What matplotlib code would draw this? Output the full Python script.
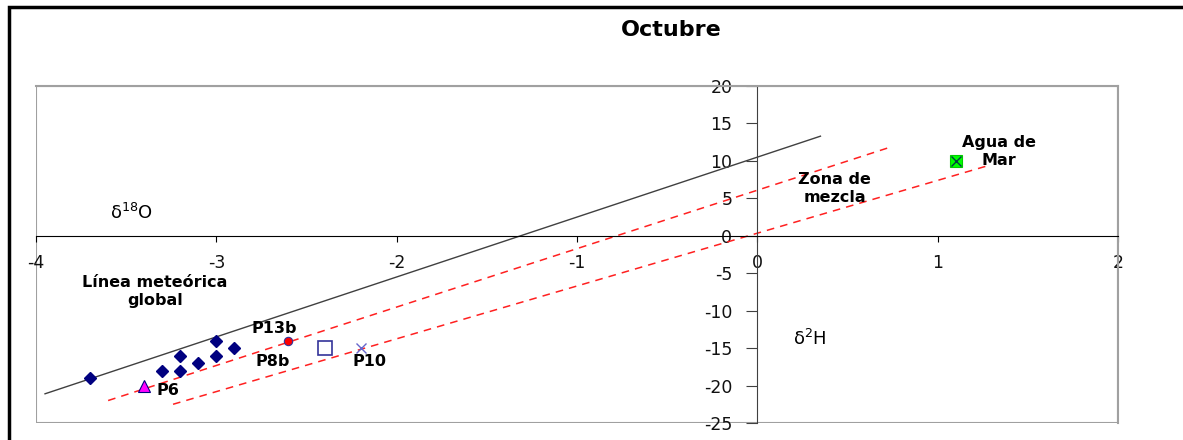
import matplotlib.pyplot as plt
from matplotlib.patches import Rectangle

plt.rcParams['font.family'] = ['DejaVu Sans']
plt.rcParams['axes.unicode_minus'] = False
plt.rcParams['mathtext.default'] = 'regular'

# Muestras de octubre (d18O, d2H)
muestras_x = [-3.7, -3.3, -3.2, -3.2, -3.1, -3.0, -3.0, -2.9]
muestras_y = [-19, -18, -18, -16, -17, -16, -14, -15]
p6 = (-3.4, -20)
p13b = (-2.6, -14)
p8b = (-2.4, -15)
p10 = (-2.2, -15)
agua_mar = (1.1, 10)

# Linea meteorica global y limites de la zona de mezcla
lmg_x = [-3.95, 0.35]
lmg_y = [-21.1, 13.3]
mezcla_sup_x = [-3.6, 0.72]
mezcla_sup_y = [-22.0, 11.7]
mezcla_inf_x = [-3.24, 1.27]
mezcla_inf_y = [-22.5, 9.3]

xticks = [-4, -3, -2, -1, 0, 1, 2]
yticks = [-25, -20, -15, -10, -5, 0, 5, 10, 15, 20]

fig = plt.figure(figsize=(11.83, 4.40), dpi=100)
ax = fig.add_axes([36 / 1183, 17 / 440, 1082 / 1183, 337 / 440])

# marco exterior del grafico
fig.patches.append(Rectangle((9 / 1183, -0.1), 1.2, (433 / 440) + 0.1,
                             transform=fig.transFigure, fill=False,
                             edgecolor='black', linewidth=2.5, zorder=0))

ax.plot(lmg_x, lmg_y, color='#404040', linewidth=1.0)
ax.plot(mezcla_sup_x, mezcla_sup_y, color='#FF2020', linestyle=(0, (5, 4)), linewidth=1.1)
ax.plot(mezcla_inf_x, mezcla_inf_y, color='#FF2020', linestyle=(0, (5, 4)), linewidth=1.1)

ax.plot(muestras_x, muestras_y, linestyle='none', marker='D', markersize=6.5,
        color='#000080')
ax.plot(p6[0], p6[1], linestyle='none', marker='^', markersize=8,
        markerfacecolor='#FF00FF', markeredgecolor='#000080', markeredgewidth=0.8)
ax.plot(p13b[0], p13b[1], linestyle='none', marker='o', markersize=6,
        markerfacecolor='#FF0000', markeredgecolor='#333399', markeredgewidth=0.8)
ax.plot(p8b[0], p8b[1], linestyle='none', marker='s', markersize=10,
        markerfacecolor='none', markeredgecolor='#333399', markeredgewidth=1.2)
ax.plot(p10[0], p10[1], linestyle='none', marker='x', markersize=7,
        color='#6666CC', markeredgewidth=1.0)
ax.plot(agua_mar[0], agua_mar[1], linestyle='none', marker='s', markersize=9,
        markerfacecolor='#00FF00', markeredgecolor='#00CC00', markeredgewidth=0.8)
ax.plot(agua_mar[0], agua_mar[1], linestyle='none', marker='x', markersize=7,
        color='#004040', markeredgewidth=1.0)

ax.set_xlim(-4, 2)
ax.set_ylim(-25, 20)
ax.set_xticks(xticks)
ax.set_yticks(yticks)

# ejes cruzando en el origen, borde gris del area de trazado
for s in ['top', 'right']:
    ax.spines[s].set_color('#A0A0A0')
    ax.spines[s].set_linewidth(1.5)
ax.spines['left'].set_position(('data', 0))
ax.spines['bottom'].set_position(('data', 0))
ax.spines['left'].set_color('#404040')
ax.spines['bottom'].set_color('black')
ax.add_patch(Rectangle((0, 0), 1, 1, transform=ax.transAxes, fill=False,
                       edgecolor='#A0A0A0', linewidth=1.5, zorder=0))

ax.tick_params(axis='x', direction='out', length=4, pad=9, labelsize=12.5, color='black')
ax.tick_params(axis='y', direction='out', length=8, pad=10, labelsize=12.5, color='#404040')
for lbl in ax.get_xticklabels() + ax.get_yticklabels():
    lbl.set_color('#111111')

fig.text(671 / 1183, 1 - 30 / 440, 'Octubre', ha='center', va='center',
         fontsize=16, fontweight='bold')

ax.text(-3.59, 3.1, r'$\delta^{18}$O', fontsize=13, ha='left', va='center')
ax.text(0.2, -13.8, r'$\delta^{2}$H', fontsize=13, ha='left', va='center')

bold = dict(fontsize=11.5, fontweight='bold', ha='center', va='center')
ax.text(-3.34, -7.5, 'Línea meteórica\nglobal', linespacing=1.25, **bold)
ax.text(-2.68, -12.4, 'P13b', **bold)
ax.text(-2.69, -16.8, 'P8b', **bold)
ax.text(-2.15, -16.8, 'P10', **bold)
ax.text(-3.27, -20.65, 'P6', **bold)
ax.text(0.43, 6.3, 'Zona de\nmezcla', linespacing=1.25, **bold)
ax.text(1.34, 11.25, 'Agua de\nMar', linespacing=1.25, **bold)

fig.savefig('out.png', dpi=100)
